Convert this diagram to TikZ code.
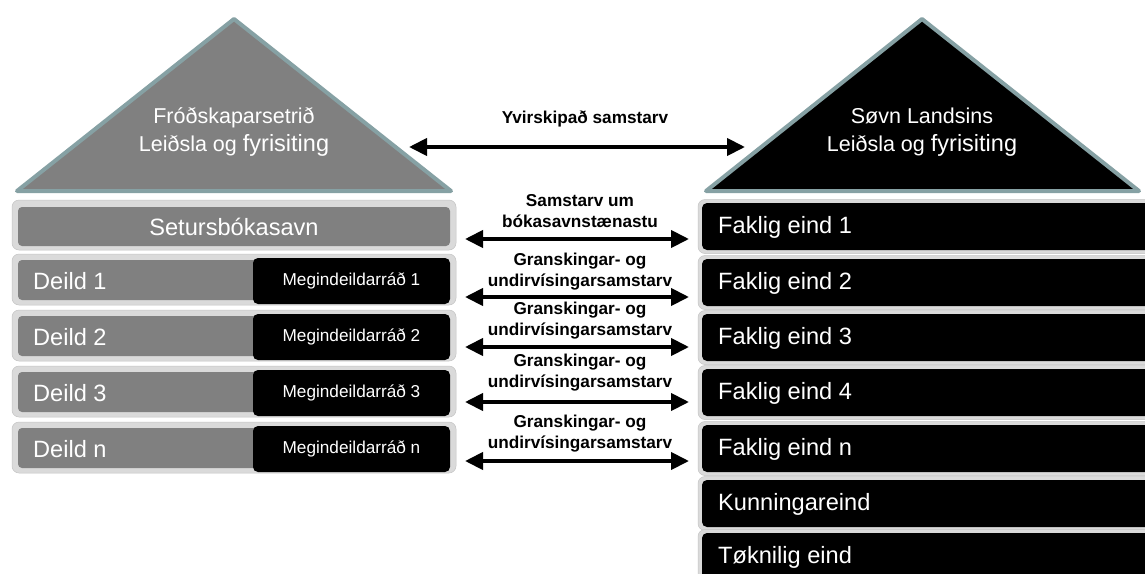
\documentclass[tikz,border=0pt]{standalone}
\usepackage{fontspec}
\setmainfont{Liberation Sans}
\usetikzlibrary{arrows.meta}
\definecolor{triline}{HTML}{86A1A4}
\definecolor{midgray}{HTML}{808080}
\definecolor{rowbg}{HTML}{DADADA}
\tikzset{
  rowbox/.style={fill=rowbg, draw=rowbg!90!black, line width=0.5pt, rounded corners=7pt, inner sep=0pt, outer sep=0pt},
  graybar/.style={fill=midgray, rounded corners=4pt, inner sep=0pt, outer sep=0pt},
  blackbox/.style={fill=black, rounded corners=5pt, inner sep=0pt, outer sep=0pt},
  bigtxt/.style={text=white, font=\fontsize{23.6}{27}\selectfont, inner sep=0pt},
  smalltxt/.style={text=white, font=\fontsize{17.2}{20}\selectfont, inner sep=0pt},
  tritxt/.style={text=white, font=\fontsize{21.5}{28}\selectfont, align=center, inner sep=0pt},
  lbl/.style={font=\bfseries\fontsize{17.2}{21}\selectfont, align=center, inner sep=0pt},
  biarrow/.style={line width=4pt, {Triangle[width=17pt,length=18pt]}-{Triangle[width=17pt,length=18pt]}},
  roof/.style={draw=triline, line width=4pt, line join=round}
}
\newcommand{\bigword}[1]{{\fontsize{23.5}{28}\selectfont #1}}
\begin{document}
\begin{tikzpicture}[x=1pt,y=-1pt]
\useasboundingbox (0,0) rectangle (1145,573);
\clip (0,0) rectangle (1145,573);
\fill[white] (0,0) rectangle (1145,573);

% roofs
\draw[roof, fill=midgray] (17,191) -- (234,19) -- (451,191) -- cycle;
\node[tritxt] (lroof) at (234,132) {Fróðskaparsetrið\\Leiðsla og \bigword{fyrisiting}};
\draw[roof, fill=black] (706,191) -- (922,19) -- (1139,191) -- cycle;
\node[tritxt] (rroof) at (922,132) {Søvn Landsins\\Leiðsla og \bigword{fyrisiting}};

% left: library row
\node[rowbox, minimum width=444pt, minimum height=50pt] (setrow) at (234,225) {};
\node[graybar, minimum width=432pt, minimum height=39pt] (setur) at (234,226.5) {};
\node[bigtxt] at (setur) {Setursbókasavn};

% left: department rows
\foreach \i/\T in {1/254, 2/310, 3/366, n/422} {
  \node[rowbox, minimum width=444pt, minimum height=51pt] (lrow\i) at (234,\T+25.5) {};
  \node[graybar, minimum width=247pt, minimum height=40pt] (deild\i) at (141.5,\T+26) {};
  \node[bigtxt, anchor=west] at (33,\T+27.5) {Deild \i};
  \node[blackbox, minimum width=197pt, minimum height=46pt] (mdr\i) at (351.5,\T+27) {};
  \node[smalltxt] at (mdr\i) {Megindeildarráð \i};
}

% right rows
\foreach \n/\B/\lab in {r1/203/Faklig eind 1, r2/259/Faklig eind 2, r3/314/Faklig eind 3, r4/369/Faklig eind 4, rn/425/Faklig eind n, rk/480/Kunningareind, rt/533/Tøknilig eind} {
  \node[rowbox, minimum width=470pt, minimum height=54pt] (o\n) at (933,\B+23.5) {};
  \node[blackbox, minimum width=466pt, minimum height=47pt] (\n) at (935,\B+23.5) {};
  \node[bigtxt, anchor=west] at (718,\B+24.5) {\lab};
}

% arrows
\coordinate (t0l) at (409,147); \coordinate (t0r) at (745,147);
\draw[biarrow] (t0l) -- (t0r);
\node[lbl] (l0) at (585,119) {Yvirskipað samstarv};

\foreach \k/\y/\ly/\txt in {1/239/211/{Samstarv um\\bókasavnstænastu},
                             2/297/272/{Granskingar- og\\undirvísingarsamstarv},
                             3/347/321/{Granskingar- og\\undirvísingarsamstarv},
                             4/402/373/{Granskingar- og\\undirvísingarsamstarv},
                             5/461/434/{Granskingar- og\\undirvísingarsamstarv}} {
  \coordinate (a\k l) at (465,\y);
  \coordinate (a\k r) at (689,\y);
  \draw[biarrow] (a\k l) -- (a\k r);
  \node[lbl] (lb\k) at (580,\ly) {\txt};
}
\end{tikzpicture}
\end{document}
